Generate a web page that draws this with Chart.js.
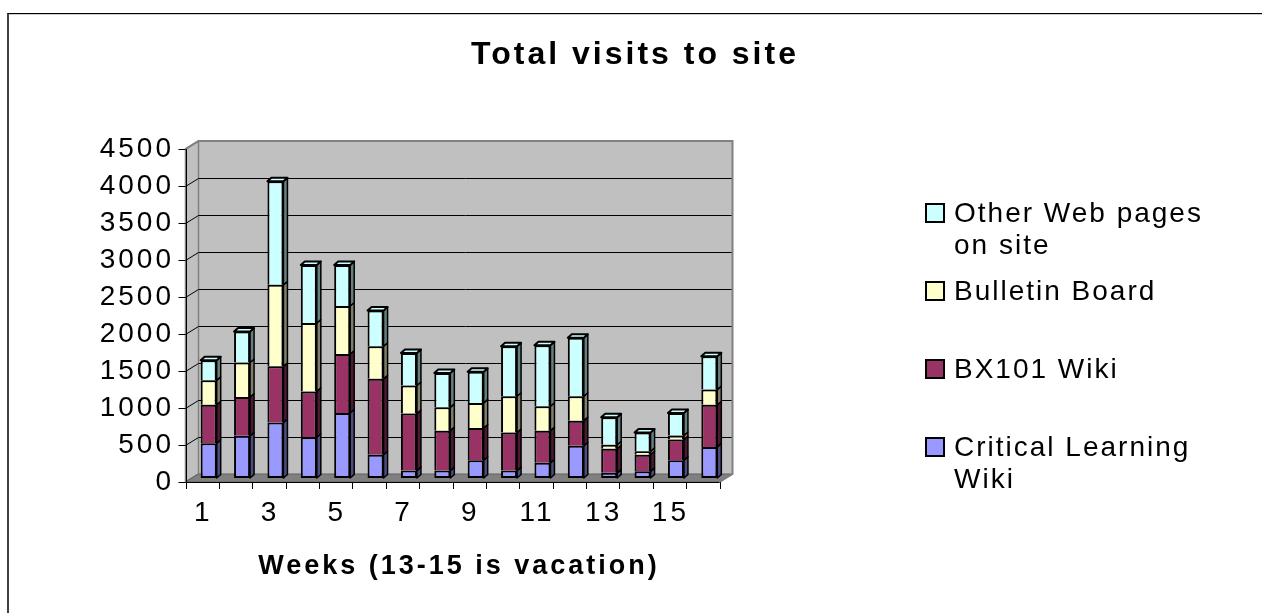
<!DOCTYPE html>
<html><head><meta charset="utf-8">
<script src="https://cdn.jsdelivr.net/npm/chart.js@4.4.1/dist/chart.umd.min.js"></script>
<style>
html,body{margin:0;padding:0;background:#fff;width:1262px;height:613px;overflow:hidden;}
#frame{position:absolute;left:7px;top:13px;width:1400px;height:800px;border-top:1px solid #000;border-left:2px solid #404040;box-shadow:inset 0 1px 0 #d0d0d0;}
#c{position:absolute;left:0;top:0;}
#legend{position:absolute;left:925px;top:197px;font-family:'Liberation Sans',Arial,sans-serif;font-size:28px;letter-spacing:2px;line-height:32px;color:#000;}
.row{display:flex;align-items:flex-start;height:78px;}
.sw{width:20px;height:20px;box-sizing:border-box;border:2px solid #000;margin-top:6px;flex:none;}
.tx{margin-left:9px;width:285px;}
</style></head><body>
<div id="frame"></div>
<canvas id="c" width="1262" height="613"></canvas>
<div id="legend"></div>
<script>
// ---- data ----
const weeks = ['1','2','3','4','5','6','7','8','9','10','11','12','13','14','15','16'];
const seriesNames = ['Critical Learning Wiki','BX101 Wiki','Bulletin Board','Other Web pages on site'];
const criticalLearningWiki = [470, 570, 750, 550, 880, 315, 100, 100, 240, 100, 205, 435, 70, 90, 240, 420];
const bx101Wiki            = [520, 525, 760, 620, 795, 1025, 770, 540, 435, 515, 435, 340, 325, 225, 280, 570];
const bulletinBoard        = [330, 465, 1100, 925, 650, 440, 380, 315, 340, 490, 330, 330, 55, 45, 55, 205];
const otherWebPages        = [270, 420, 1400, 785, 555, 485, 440, 465, 420, 675, 825, 790, 370, 255, 305, 450];
const yMin = 0, yMax = 4500, yStep = 500;
const chartTitle = 'Total visits to site';
const xTitle = 'Weeks (13-15 is vacation)';

// ---- styles ----
const FONT = "'Liberation Sans', Arial, sans-serif";
const seriesColors = ['#9999FF', '#993366', '#FFFFCC', '#CCFFFF'];
const sideColors = ['#4D4D80', '#4D1A33', '#80806A', '#668080'];
const DX = 6.5, DY = 4;      // half wall depth
const SX = 4, SY = 3.5;      // bar depth

const seriesValues = [criticalLearningWiki, bx101Wiki, bulletinBoard, otherWebPages];

const spacingPlugin = {
  id: 'spacing',
  beforeUpdate(c) { c.ctx.letterSpacing = '3px'; },
  beforeDraw(c) { c.ctx.letterSpacing = '3px'; }
};

const wallsPlugin = {
  id: 'walls',
  beforeDatasetsDraw(chart) {
    const {ctx, chartArea: a, scales: {y}} = chart;
    ctx.save();
    const bl = a.left + DX, br = a.right + DX, bt = a.top - DY, bb = a.bottom - DY;
    const fl = a.left - DX, fr = a.right - DX, ft = a.top + DY, fb = a.bottom + DY;
    ctx.fillStyle = '#C0C0C0';
    ctx.fillRect(bl, bt, br - bl, bb - bt);
    ctx.beginPath();
    ctx.moveTo(fl, ft); ctx.lineTo(bl, bt); ctx.lineTo(bl, bb); ctx.lineTo(fl, fb); ctx.closePath();
    ctx.fillStyle = '#C0C0C0'; ctx.fill();
    ctx.strokeStyle = '#808080'; ctx.lineWidth = 1.5; ctx.stroke();
    ctx.beginPath();
    ctx.moveTo(fl, fb); ctx.lineTo(fr, fb); ctx.lineTo(br, bb); ctx.lineTo(bl, bb); ctx.closePath();
    ctx.fillStyle = '#808080'; ctx.fill();
    ctx.strokeStyle = '#606060'; ctx.lineWidth = 1; ctx.stroke();
    ctx.strokeStyle = '#000'; ctx.lineWidth = 1;
    y.ticks.forEach(t => {
      if (t.value <= yMin || t.value >= yMax) return;
      const py = Math.round(y.getPixelForValue(t.value)) + 0.5;
      ctx.beginPath();
      ctx.moveTo(fl, py + DY); ctx.lineTo(bl, py - DY); ctx.lineTo(br, py - DY);
      ctx.stroke();
    });
    ctx.strokeStyle = '#808080'; ctx.lineWidth = 2;
    ctx.beginPath();
    ctx.moveTo(fl, ft); ctx.lineTo(bl, bt); ctx.lineTo(br, bt); ctx.lineTo(br, bb); ctx.lineTo(fr, fb);
    ctx.stroke();
    ctx.restore();
  },
  afterDatasetsDraw(chart) {
    const {ctx, chartArea: a, scales: {x, y}} = chart;
    ctx.save();
    ctx.lineJoin = 'round';
    const n = chart.data.datasets.length;
    chart.data.datasets.forEach((ds, di) => {
      const meta = chart.getDatasetMeta(di);
      meta.data.forEach(bar => {
        const p = bar.getProps(['x', 'y', 'base', 'width'], true);
        const xl = p.x - p.width / 2, xr = p.x + p.width / 2;
        const top = Math.min(p.y, p.base), bot = Math.max(p.y, p.base);
        ctx.beginPath();
        ctx.moveTo(xr, top); ctx.lineTo(xr + SX, top - SY); ctx.lineTo(xr + SX, bot - SY); ctx.lineTo(xr, bot); ctx.closePath();
        ctx.fillStyle = sideColors[di]; ctx.fill();
        ctx.strokeStyle = '#000'; ctx.lineWidth = 1.5; ctx.stroke();
        if (di === n - 1) {
          ctx.beginPath();
          ctx.moveTo(xl, top); ctx.lineTo(xl + SX, top - SY); ctx.lineTo(xr + SX, top - SY); ctx.lineTo(xr, top); ctx.closePath();
          ctx.fillStyle = seriesColors[di]; ctx.fill();
          ctx.lineWidth = 2; ctx.stroke();
        }
      });
    });
    const fl = a.left - DX, fr = a.right - DX, ft = a.top + DY, fb = a.bottom + DY;
    ctx.strokeStyle = '#000'; ctx.lineWidth = 1;
    ctx.beginPath();
    ctx.moveTo(Math.round(fl) + 0.5, ft); ctx.lineTo(Math.round(fl) + 0.5, fb);
    ctx.moveTo(fl, Math.round(fb) + 0.5); ctx.lineTo(fr, Math.round(fb) + 0.5);
    ctx.stroke();
    ctx.beginPath();
    y.ticks.forEach(t => {
      const py = Math.round(y.getPixelForValue(t.value) + DY) + 0.5;
      ctx.moveTo(fl - 7, py); ctx.lineTo(fl, py);
    });
    const slot = x.getPixelForTick(1) - x.getPixelForTick(0);
    for (let i = 0; i <= weeks.length; i++) {
      const px = Math.round((i < weeks.length ? x.getPixelForTick(i) - slot / 2 : x.getPixelForTick(weeks.length - 1) + slot / 2) - DX) + 0.5;
      ctx.moveTo(px, fb); ctx.lineTo(px, fb + 7);
    }
    ctx.stroke();
    ctx.restore();
  }
};

const datasets = seriesValues.map((vals, i) => ({
  label: seriesNames[i],
  data: vals,
  backgroundColor: seriesColors[i],
  borderColor: '#000',
  borderWidth: 2,
  borderSkipped: i === 0 ? false : 'start'
}));

new Chart(document.getElementById('c'), {
  type: 'bar',
  data: { labels: weeks, datasets },
  options: {
    responsive: false,
    animation: false,
    layout: { padding: { left: 8, right: 0, top: 0, bottom: 0 } },
    datasets: { bar: { categoryPercentage: 1, barPercentage: 0.48 } },
    plugins: {
      legend: { display: false },
      tooltip: { enabled: false },
      title: {
        display: true, text: chartTitle, color: '#000',
        font: { family: FONT, size: 32, weight: 'bold', lineHeight: 1.2 },
        padding: { top: 35.6, bottom: 71 }
      }
    },
    scales: {
      x: {
        stacked: true,
        grid: { display: false }, border: { display: false },
        ticks: {
          autoSkip: false, maxRotation: 0, minRotation: 0, padding: 10, labelOffset: -5.5,
          color: '#000', font: { family: FONT, size: 28 },
          callback: (v, i) => (i % 2 === 0 ? weeks[i] : '')
        },
        title: {
          display: true, text: xTitle, color: '#000',
          font: { family: FONT, size: 27, weight: 'bold' },
          padding: { top: 0, bottom: 30 }
        },
        afterFit(s) { s.height = 135; }
      },
      y: {
        stacked: true, min: yMin, max: yMax,
        grid: { display: false }, border: { display: false },
        ticks: {
          stepSize: yStep, padding: 10, labelOffset: 4, color: '#000', font: { family: FONT, size: 28 },
          callback: v => String(v)
        },
        afterFit(s) { s.width = 184; }
      },
      yr: {
        position: 'right',
        grid: { display: false }, border: { display: false },
        ticks: { display: false },
        afterFit(s) { s.width = 536; }
      }
    }
  },
  plugins: [spacingPlugin, wallsPlugin]
});

const legend = document.getElementById('legend');
for (let i = seriesNames.length - 1; i >= 0; i--) {
  const row = document.createElement('div'); row.className = 'row';
  const sw = document.createElement('div'); sw.className = 'sw'; sw.style.background = seriesColors[i];
  const tx = document.createElement('div'); tx.className = 'tx'; tx.textContent = seriesNames[i];
  row.appendChild(sw); row.appendChild(tx); legend.appendChild(row);
}
</script>
</body></html>
